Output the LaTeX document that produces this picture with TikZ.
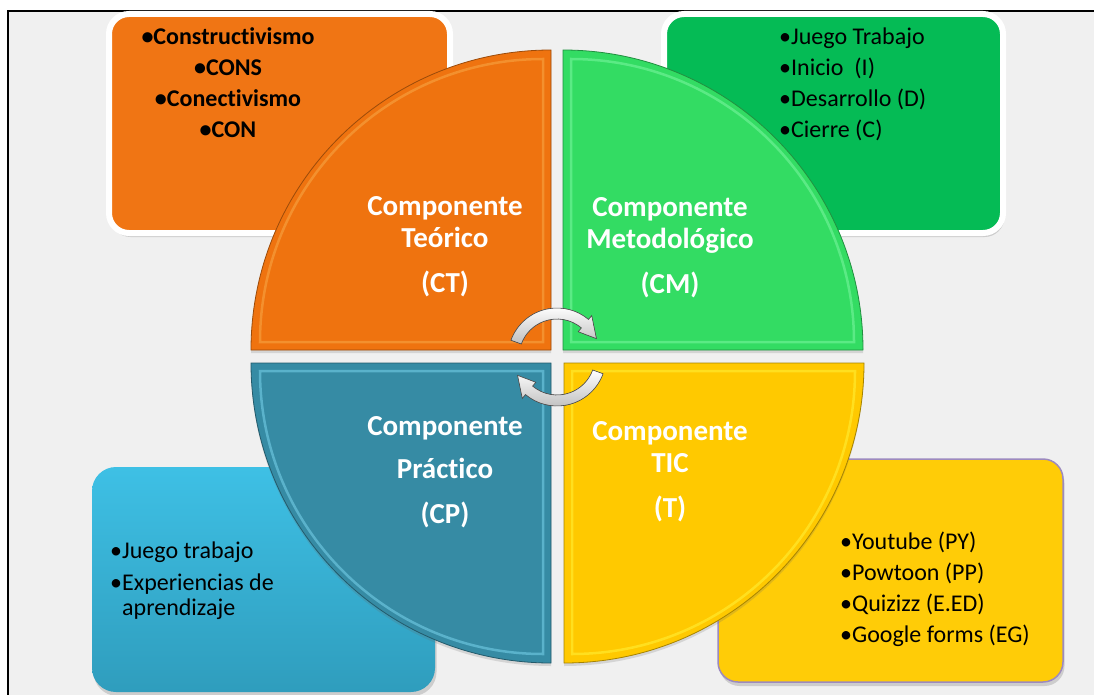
\documentclass[tikz,border=0pt]{standalone}
\usepackage{fontspec}
\setmainfont{Carlito}[Ligatures=NoCommon]
\usetikzlibrary{shadows}
\definecolor{bgGray}{HTML}{F0F0F0}
\definecolor{boxOrange}{HTML}{F07514}
\definecolor{boxGreen}{HTML}{05BB55}
\definecolor{boxBlueTop}{HTML}{3EC0E5}
\definecolor{boxBlueBot}{HTML}{2F9DBD}
\definecolor{boxYellow}{HTML}{FFCC07}
\definecolor{boxYellowLine}{HTML}{9D8ABF}
\definecolor{qOrange}{HTML}{EF730F}
\definecolor{qOrangeHi}{HTML}{F8A848}
\definecolor{qGreen}{HTML}{33DC63}
\definecolor{qGreenHi}{HTML}{7DF7A2}
\definecolor{qBlue}{HTML}{368BA4}
\definecolor{qBlueHi}{HTML}{78D3EC}
\definecolor{qYellow}{HTML}{FFC900}
\definecolor{qYellowHi}{HTML}{FFF23A}
\begin{document}
\begin{tikzpicture}[x=1pt,y=-1pt,
  boxshadow/.style={drop shadow={shadow xshift=1.5pt, shadow yshift=-4pt, opacity=0.25, fill=black!60}},
  quadfill/.style={line width=0.8pt, drop shadow={shadow xshift=0pt, shadow yshift=-3pt, opacity=0.2, fill=black!60}},
  quadhi/.style={line width=2.5pt, opacity=0.55},
  boxtxt/.style={font=\fontsize{24}{31}\selectfont, text=black, inner sep=0pt},
  qtxt/.style={font=\fontsize{29}{32}\selectfont\bfseries, text=white, inner sep=0pt, align=center, anchor=base},
  cyc/.style={top color=white, bottom color=gray!50, draw=gray!60!black, line width=0.6pt}
]
\useasboundingbox (0,0) rectangle (1094,695);
\fill[white] (0,0) rectangle (1094,695);
\fill[bgGray] (8,11) rectangle (1094,695);
\draw[black, line width=1.5pt] (8,695) -- (8,11) -- (1094,11);

% side boxes
\draw[boxshadow, fill=boxOrange, draw=white, line width=6pt, rounded corners=20pt] (109,14) rectangle (450,233);
\draw[boxshadow, fill=boxGreen, draw=white, line width=6pt, rounded corners=20pt] (664,14) rectangle (1003,233);
\path[boxshadow, top color=boxBlueTop, bottom color=boxBlueBot, rounded corners=24pt] (92,467) rectangle (435,692);
\draw[boxshadow, fill=boxYellow, draw=boxYellowLine, line width=1.5pt, rounded corners=20pt] (718,459) rectangle (1063,682);

% quadrants
\filldraw[quadfill, fill=qOrange, draw=qOrange!65!black] (551,350) -- (251,350) arc[start angle=180,end angle=270,radius=300] -- cycle;
\draw[quadhi, qOrangeHi] (543,342) -- (260,342) arc[start angle=180,end angle=270,radius=283] -- cycle;
\filldraw[quadfill, fill=qGreen, draw=qGreen!65!black] (563,350) -- (563,50) arc[start angle=270,end angle=360,radius=300] -- cycle;
\draw[quadhi, qGreenHi] (571,342) -- (571,59) arc[start angle=270,end angle=360,radius=283] -- cycle;
\filldraw[quadfill, fill=qBlue, draw=qBlue!65!black] (551,363) -- (251,363) arc[start angle=180,end angle=90,radius=300] -- cycle;
\draw[quadhi, qBlueHi] (543,371) -- (260,371) arc[start angle=180,end angle=90,radius=283] -- cycle;
\filldraw[quadfill, fill=qYellow, draw=qYellow!65!black] (564,363) -- (564,663) arc[start angle=90,end angle=0,radius=300] -- cycle;
\draw[quadhi, qYellowHi] (572,371) -- (572,654) arc[start angle=90,end angle=0,radius=283] -- cycle;

% circular arrows
\filldraw[cyc, shift={(557,357)}] (200:49) arc[start angle=200,end angle=310,radius=49] -- (310:54) -- (335:43.5) -- (310:33) -- (310:38) arc[start angle=310,end angle=200,radius=38] -- cycle;
\filldraw[cyc, shift={(557,357)}] (20:49) arc[start angle=20,end angle=130,radius=49] -- (130:54) -- (155:43.5) -- (130:33) -- (130:38) arc[start angle=130,end angle=20,radius=38] -- cycle;

% box texts (anchor base = baseline of the last line)
\node[boxtxt, font=\fontsize{24}{31}\selectfont\bfseries, align=center, anchor=base] (teotxt) at (228,138)
  {•Constructivismo\\•CONS\\•Conectivismo\\•CON};
\node[boxtxt, align=left, anchor=base west] (mettxt) at (779,138)
  {•Juego Trabajo\\•Inicio\ \ (I)\\•Desarrollo (D)\\•Cierre (C)};
\node[boxtxt, font=\fontsize{24}{25}\selectfont, align=left, anchor=base west] (pratxt) at (110,615)
  {•Juego trabajo\\[7pt]•Experiencias de\\\hphantom{•}aprendizaje};
\node[boxtxt, font=\fontsize{24}{30.7}\selectfont, align=left, anchor=base west] (tictxt) at (840,642)
  {•Youtube (PY)\\•Powtoon (PP)\\•Quizizz (E.ED)\\•Google forms (EG)};

% quadrant labels
\node[qtxt] (ct) at (445,292) {Componente\\Teórico\\[13pt](CT)};
\node[qtxt] (cm) at (670,293) {Componente\\Metodológico\\[13pt](CM)};
\node[qtxt] (cp) at (445,523) {Componente\\[11pt]Práctico\\[13pt](CP)};
\node[qtxt] (cti) at (670,517) {Componente\\TIC\\[13pt](T)};
\end{tikzpicture}
\end{document}
